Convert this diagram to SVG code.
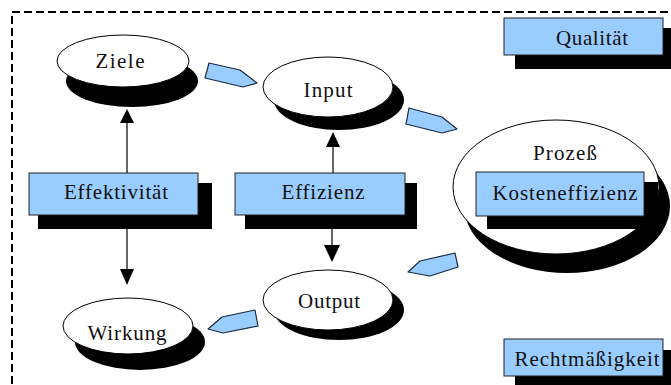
<svg xmlns="http://www.w3.org/2000/svg" width="671" height="385" viewBox="0 0 671 385">
<defs>
<style>
.sh{fill:#000}
.el{fill:#fff;stroke:#000;stroke-width:1}
.box{fill:#99CCFF;stroke:#222;stroke-width:1}
.blu{fill:#99CCFF;stroke:#1a2a40;stroke-width:1.2;stroke-linejoin:round}
.t{font-family:"Liberation Serif","Times New Roman",serif;font-size:21px;fill:#111;text-anchor:middle}
.ln{stroke:#000;stroke-width:1.2;fill:none}
.hd{fill:#000}
</style>
</defs>
<rect width="671" height="385" fill="#fff"/>
<rect x="12" y="12" width="720" height="420" fill="none" stroke="#000" stroke-width="2" stroke-dasharray="8 4"/>

<g id="connectors">
  <line class="ln" x1="127" y1="173" x2="127" y2="122"/>
  <polygon class="hd" points="127,109 120,123 134,123"/>
  <line class="ln" x1="127" y1="215" x2="127" y2="270"/>
  <polygon class="hd" points="127,285 120,269 134,269"/>
  <line class="ln" x1="333" y1="173" x2="333" y2="146"/>
  <polygon class="hd" points="333,132 326,147 340,147"/>
  <line class="ln" x1="332" y1="215" x2="332" y2="246"/>
  <polygon class="hd" points="332,262 324,245 340,245"/>
  <polygon class="blu" points="209,63 205,78 243,87 257,83 240,70"/>
  <polygon class="blu" points="409,108 406,124 442,133 457,129 442,117"/>
  <polygon class="blu" points="408,272 420,261 455,253 458,267 430,276"/>
  <polygon class="blu" points="208,329 222,317 255,310 258,326 223,333"/>
</g>

<g id="ziele">
  <ellipse class="sh" cx="132" cy="81" rx="66" ry="26"/>
  <ellipse class="el" cx="123" cy="61" rx="66" ry="26"/>
  <text class="t" x="120" y="68" textLength="49" lengthAdjust="spacing">Ziele</text>
</g>

<g id="input">
  <ellipse class="sh" cx="339" cy="100" rx="65" ry="30"/>
  <ellipse class="el" cx="328" cy="87" rx="65" ry="30"/>
  <text class="t" x="328" y="97" textLength="49" lengthAdjust="spacing">Input</text>
</g>

<g id="output">
  <ellipse class="sh" cx="339" cy="310" rx="65" ry="30"/>
  <ellipse class="el" cx="328" cy="300" rx="65" ry="30"/>
  <text class="t" x="329" y="308" textLength="62" lengthAdjust="spacing">Output</text>
</g>

<g id="wirkung">
  <ellipse class="sh" cx="140" cy="342" rx="65" ry="28"/>
  <ellipse class="el" cx="128" cy="326" rx="65" ry="28"/>
  <text class="t" x="127" y="340" textLength="79" lengthAdjust="spacing">Wirkung</text>
</g>

<g id="effektivitaet">
  <rect class="sh" x="38" y="183" width="174" height="46"/>
  <rect class="box" x="29" y="173" width="169" height="42"/>
  <text class="t" x="116" y="199" textLength="104" lengthAdjust="spacing">Effektivität</text>
</g>

<g id="effizienz">
  <rect class="sh" x="245" y="183" width="172" height="46"/>
  <rect class="box" x="235" y="173" width="170" height="42"/>
  <text class="t" x="323" y="199" textLength="83" lengthAdjust="spacing">Effizienz</text>
</g>

<g id="prozess">
  <ellipse class="sh" cx="567" cy="206" rx="103" ry="67"/>
  <ellipse class="el" cx="556" cy="187" rx="103" ry="67"/>
  <text class="t" x="565" y="160" textLength="64" lengthAdjust="spacing">Prozeß</text>
</g>

<g id="kosteneffizienz">
  <rect class="sh" x="487" y="182" width="171" height="47"/>
  <rect class="box" x="476" y="172" width="168" height="44"/>
  <text class="t" x="565" y="200" textLength="145" lengthAdjust="spacing">Kosteneffizienz</text>
</g>

<g id="qualitaet">
  <rect class="sh" x="515" y="28" width="170" height="41"/>
  <rect class="box" x="504" y="18" width="159" height="37"/>
  <text class="t" x="592" y="45" textLength="72" lengthAdjust="spacing">Qualität</text>
</g>

<g id="rechtmaessigkeit">
  <rect class="sh" x="515" y="350" width="170" height="50"/>
  <rect class="box" x="504" y="339" width="159" height="37"/>
  <text class="t" x="587" y="366" textLength="145" lengthAdjust="spacing">Rechtmäßigkeit</text>
</g>
</svg>
